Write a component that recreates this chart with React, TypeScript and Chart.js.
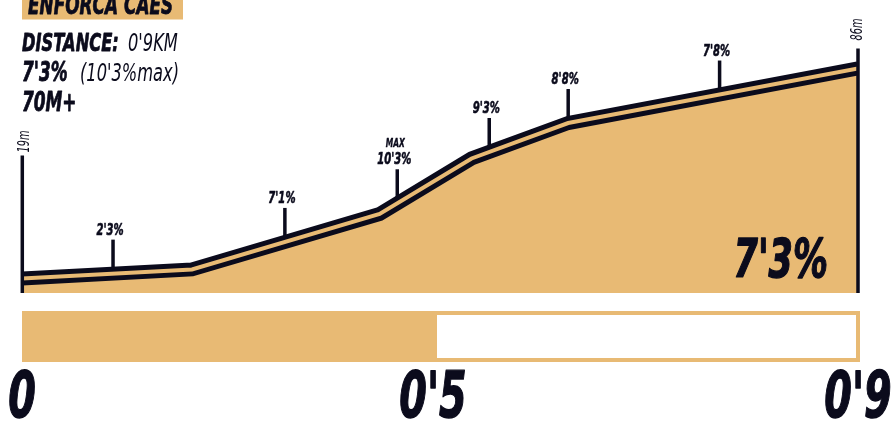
import { useEffect, useRef } from "react";
import { Chart, registerables } from "chart.js";

Chart.register(...registerables);

// ---- data ----
const title = "ENFORCA CAES";
const distanceKm = [0, 0.183, 0.385, 0.484, 0.588, 0.9];
const elevationM = [19, 21.9, 39.6, 57.3, 68.6, 86];
const gradeKm = [0.098, 0.283, 0.404, 0.503, 0.588, 0.751];
const gradeLabels = ["2'3%", "7'1%", "10'3%", "9'3%", "8'8%", "7'8%"];
const maxGradeIndex = 2;
const maxLabel = "MAX";
const startLabel = "19m";
const endLabel = "86m";
const averageGrade = "7'3%";
const infoDistanceKey = "DISTANCE:";
const infoDistanceValue = "0'9KM";
const infoGradeKey = "7'3%";
const infoGradeValue = "(10'3%max)";
const infoClimb = "70M+";
const barTickKm = [0, 0.45, 0.9];
const barTickLabels = ["0", "0'5", "0'9"];
const barDoneKm = 0.45;

// ---- styles ----
const TAN = "#E8BA74";
const INK = "#0B0B1C";

type TxtOpts = {
  size: number;
  bold?: boolean;
  italic?: boolean;
  align?: CanvasTextAlign;
  rot?: number;
  color?: string;
  sq?: number;
  stroke?: number;
};

function txt(ctx: CanvasRenderingContext2D, s: string, x: number, y: number, o: TxtOpts) {
  const { size, bold = true, italic = true, align = "left", rot = 0, color = INK, sq = 0.65, stroke = 0 } = o;
  ctx.save();
  ctx.translate(x, y);
  if (rot) ctx.rotate(rot);
  ctx.scale(sq, 1);
  ctx.font = `${italic ? "italic " : ""}${bold ? "bold " : ""}${size}px 'DejaVu Sans', sans-serif`;
  ctx.textAlign = align;
  ctx.textBaseline = "alphabetic";
  ctx.fillStyle = color;
  ctx.fillText(s, 0, 0);
  if (stroke) {
    ctx.lineWidth = stroke;
    ctx.strokeStyle = color;
    ctx.lineJoin = "round";
    ctx.strokeText(s, 0, 0);
  }
  ctx.restore();
}

function elevAt(km: number) {
  for (let i = 0; i < distanceKm.length - 1; i++) {
    const a = distanceKm[i];
    const b = distanceKm[i + 1];
    if (km >= a && km <= b) {
      const t = (km - a) / (b - a);
      return elevationM[i] + t * (elevationM[i + 1] - elevationM[i]);
    }
  }
  return elevationM[elevationM.length - 1];
}

const profilePlugin = {
  id: "profileDecor",
  beforeDatasetsDraw(chart: any) {
    const ctx: CanvasRenderingContext2D = chart.ctx;
    const xs = chart.scales.x;
    const ys = chart.scales.y;
    gradeKm.forEach((km, i) => {
      const px = xs.getPixelForValue(km);
      const py = ys.getPixelForValue(elevAt(km));
      const top = py - 34;
      ctx.save();
      ctx.strokeStyle = INK;
      ctx.lineWidth = 3.5;
      ctx.beginPath();
      ctx.moveTo(px, py);
      ctx.lineTo(px, top);
      ctx.stroke();
      ctx.restore();
      txt(ctx, gradeLabels[i], px - 3, top - 5, { size: 15.5, align: "center", stroke: 0.6 });
      if (i === maxGradeIndex) {
        txt(ctx, maxLabel, px - 2, top - 22, { size: 11.5, align: "center", stroke: 0.4 });
      }
    });
  },
  afterDatasetsDraw(chart: any) {
    const ctx: CanvasRenderingContext2D = chart.ctx;
    const xs = chart.scales.x;
    const ys = chart.scales.y;
    const area = chart.chartArea;
    const x0 = xs.getPixelForValue(distanceKm[0]);
    const x1 = xs.getPixelForValue(distanceKm[distanceKm.length - 1]);
    const y0 = ys.getPixelForValue(elevationM[0]);
    const y1 = ys.getPixelForValue(elevationM[elevationM.length - 1]);

    // vertical end lines
    ctx.save();
    ctx.strokeStyle = INK;
    ctx.lineWidth = 3.5;
    ctx.beginPath();
    ctx.moveTo(x0 + 0.3, area.bottom);
    ctx.lineTo(x0 + 0.3, y0 - 123);
    ctx.moveTo(x1, area.bottom);
    ctx.lineTo(x1, y1 - 20);
    ctx.stroke();
    ctx.restore();

    txt(ctx, startLabel, x0 + 7, y0 - 137, { size: 15, bold: false, align: "center", rot: -Math.PI / 2 });
    txt(ctx, endLabel, x1 + 4, y1 - 39, { size: 15, bold: false, align: "center", rot: -Math.PI / 2 });

    // average grade inside profile
    txt(ctx, averageGrade, x1 - 30, area.bottom - 16, { size: 53, align: "right", sq: 0.66, stroke: 1.4 });
  },
  afterDraw(chart: any) {
    const ctx: CanvasRenderingContext2D = chart.ctx;
    const xs = chart.scales.x;

    // header
    ctx.save();
    ctx.fillStyle = TAN;
    ctx.fillRect(22, 0, 161, 19.5);
    ctx.restore();
    txt(ctx, title, 28, 13.5, { size: 26, stroke: 0.8 });
    txt(ctx, infoDistanceKey, 22, 50.5, { size: 25, stroke: 0.8 });
    txt(ctx, infoDistanceValue, 128, 50.5, { size: 25, bold: false });
    txt(ctx, infoGradeKey, 22, 80.5, { size: 26, stroke: 0.8 });
    txt(ctx, infoGradeValue, 80, 80.5, { size: 25, bold: false });
    txt(ctx, infoClimb, 22, 110.5, { size: 26, stroke: 0.8 });

    // distance bar
    const bx0 = xs.getPixelForValue(barTickKm[0]);
    const bx1 = xs.getPixelForValue(barTickKm[barTickKm.length - 1]) + 2;
    const bxs = xs.getPixelForValue(barDoneKm) - 3;
    const by0 = 311;
    const by1 = 362;
    const bw = 4;
    ctx.save();
    ctx.fillStyle = TAN;
    ctx.fillRect(bx0, by0, bx1 - bx0, by1 - by0);
    ctx.fillStyle = "#FFFFFF";
    ctx.fillRect(bxs, by0 + bw, bx1 - bw - bxs, by1 - by0 - 2 * bw);
    ctx.restore();

    barTickKm.forEach((km, i) => {
      const px = xs.getPixelForValue(km);
      const shift = i === 1 ? -7 : 0;
      txt(ctx, barTickLabels[i], px + shift, 417, { size: 64, align: "center", sq: 0.62, stroke: 1.4 });
    });
  },
};

export default function App() {
  const ref = useRef<HTMLCanvasElement | null>(null);
  useEffect(() => {
    const canvas = ref.current;
    if (!canvas) return;
    const pts = distanceKm.map((x, i) => ({ x, y: elevationM[i] }));
    const chart = new Chart(canvas, {
      type: "line",
      data: {
        datasets: [
          {
            data: pts,
            borderColor: TAN,
            borderWidth: 4,
            pointRadius: 0,
            tension: 0,
            fill: false,
            borderJoinStyle: "miter",
            borderCapStyle: "butt",
            order: 0,
          },
          {
            data: pts,
            borderColor: INK,
            backgroundColor: TAN,
            borderWidth: 14,
            pointRadius: 0,
            tension: 0,
            fill: "start",
            borderJoinStyle: "miter",
            borderCapStyle: "butt",
            order: 1,
          },
        ],
      },
      options: {
        animation: false,
        responsive: false,
        devicePixelRatio: 1,
        layout: { padding: { left: 22, right: 35, top: 40, bottom: 131 } },
        plugins: { legend: { display: false }, tooltip: { enabled: false } },
        scales: {
          x: { type: "linear", min: 0, max: 0.9, display: false },
          y: { type: "linear", min: 14.37, max: 95.09, display: false },
        },
      },
      plugins: [profilePlugin],
    } as any);
    return () => chart.destroy();
  }, []);
  return (
    <div style={{ position: "absolute", left: 0, top: 0, width: 893, height: 424, background: "#FFFFFF" }}>
      <canvas ref={ref} width={893} height={424} style={{ display: "block", width: 893, height: 424 }} />
    </div>
  );
}
